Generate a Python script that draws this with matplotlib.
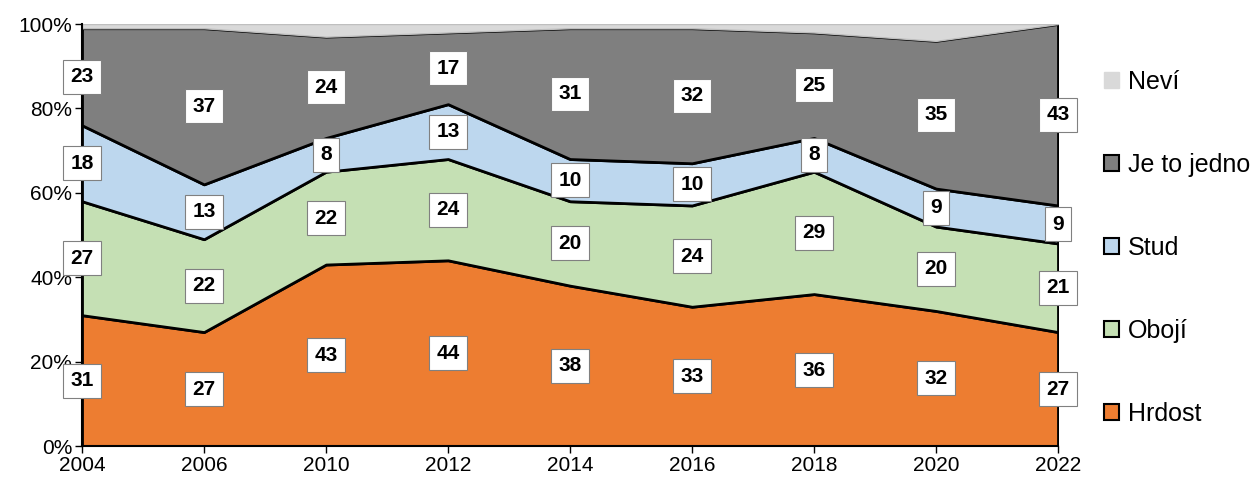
import matplotlib
matplotlib.use("Agg")
import matplotlib.pyplot as plt
import numpy as np
from matplotlib.patches import Patch

years = ["2004", "2006", "2010", "2012", "2014", "2016", "2018", "2020", "2022"]
hrdost = [31, 27, 43, 44, 38, 33, 36, 32, 27]
oboji = [27, 22, 22, 24, 20, 24, 29, 20, 21]
stud = [18, 13, 8, 13, 10, 10, 8, 9, 9]
jedno = [23, 37, 24, 17, 31, 32, 25, 35, 43]
nevi = [1, 1, 3, 2, 1, 1, 2, 4, 0]

series = [
    ("Hrdost", hrdost, "#ED7D31", "black"),
    ("Obojí", oboji, "#C5E0B4", "black"),
    ("Stud", stud, "#BDD7EE", "black"),
    ("Je to jedno", jedno, "#7F7F7F", "black"),
    ("Neví", nevi, "#D9D9D9", "#BFBFBF"),
]

plt.rcParams["font.family"] = ["Liberation Sans", "DejaVu Sans"]

fig = plt.figure(figsize=(12.56, 4.83), dpi=100)
ax = fig.add_axes([82 / 1256, 37 / 483, 976 / 1256, 422 / 483])

x = np.arange(len(years))
base = np.zeros(len(years))
for name, vals, color, edge in series:
    vals = np.array(vals, dtype=float)
    top = base + vals
    lw = 2 if edge == "black" else 1
    ax.fill_between(x, base, top, facecolor=color, edgecolor=edge,
                    linewidth=lw, zorder=2)
    if name != "Neví":
        # value boxes in the middle of each band
        for xi, b, v in zip(x, base, vals):
            ax.text(xi, b + v / 2, "%d" % v, ha="center", va="center",
                    fontsize=15, fontweight="bold", zorder=5,
                    bbox=dict(boxstyle="square,pad=0.36", facecolor="white",
                              edgecolor="#808080", linewidth=0.8))
    base = top

ax.set_xlim(0, len(years) - 1)
ax.set_ylim(0, 100)
ax.set_xticks(x)
ax.set_xticklabels(years, fontsize=15)
ax.set_yticks(np.arange(0, 101, 20))
ax.set_yticklabels([f"{v}%" for v in range(0, 101, 20)], fontsize=15)
ax.tick_params(axis="both", direction="out", length=5, width=1, pad=2)
for s in ["top", "right"]:
    ax.spines[s].set_visible(False)
for s in ["left", "bottom"]:
    ax.spines[s].set_linewidth(1.5)
    ax.spines[s].set_zorder(3)

handles = []
for name, vals, color, edge in reversed(series):
    if name == "Neví":
        handles.append(Patch(facecolor=color, edgecolor=color, label=name))
    else:
        handles.append(Patch(facecolor=color, edgecolor="black",
                             linewidth=1.5, label=name))
fig.legend(handles=handles, loc="upper left",
           bbox_to_anchor=(1104 / 1256, 1 - 70 / 483), frameon=False,
           fontsize=18, labelspacing=2.36, handlelength=0.6,
           handleheight=0.6, handletextpad=0.35, borderaxespad=0,
           borderpad=0)

fig.savefig("out.png", dpi=100, facecolor="white")
